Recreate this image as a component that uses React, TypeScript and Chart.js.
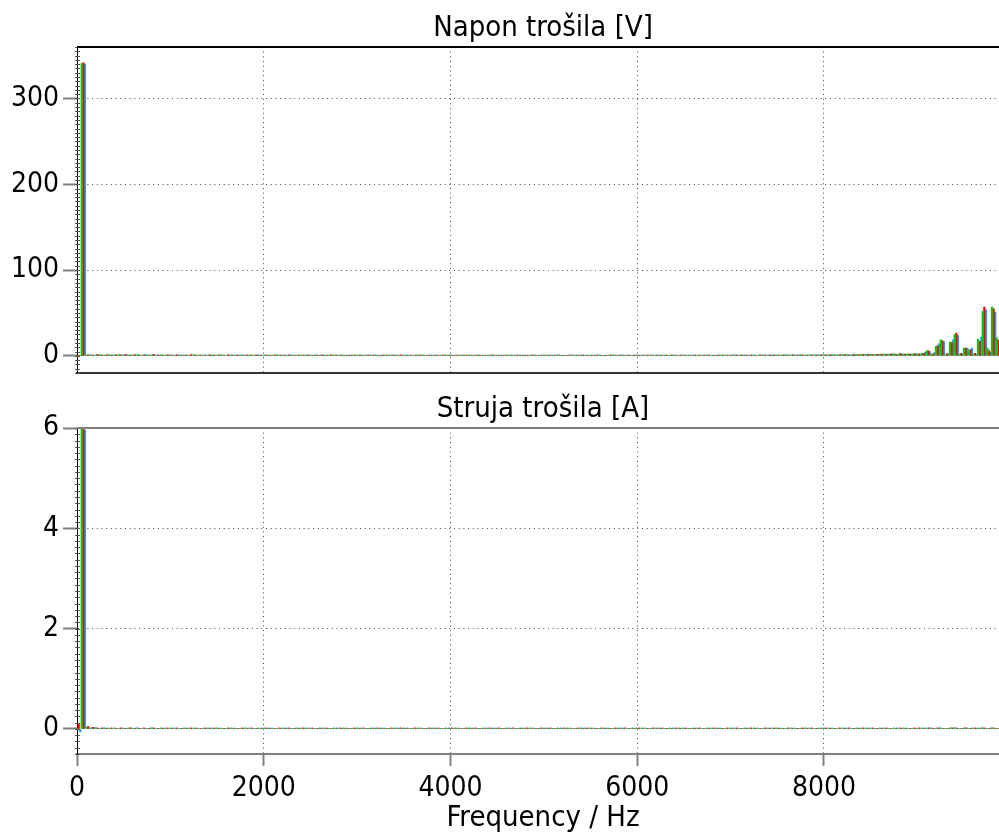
import React, { useEffect, useRef } from 'react';
import { Chart, registerables } from 'chart.js';

Chart.register(...registerables);

const FONT = '"DejaVu Sans Condensed", "DejaVu Sans", sans-serif';
const HARMONIC_STEP_HZ = 50;
const X_MAX = 9875;
const BAR_ALIGN_HZ = 18;
const X_TICKS = [0, 2000, 4000, 6000, 8000];
const V_TICKS = [0, 100, 200, 300];
const I_TICKS = [0, 2, 4, 6];
const TITLE_V = 'Napon trošila [V]';
const TITLE_I = 'Struja trošila [A]';
const X_TITLE = 'Frequency / Hz';
const PHASE_COLORS = ['#00c800', '#ff0000', '#1ea0ff'];

// Voltage spectrum, harmonic orders 0..197 (50 Hz steps)
const voltageG = [
  0.6, 340.8, 0.9, 1.3, 0.7, 1.4, 0.8, 1.2, 1.0, 1.5, 0.7, 1.1, 0.9, 1.6, 0.8, 1.2, 1.0, 0.7, 1.3, 0.9,
  1.1, 0.7, 1.2, 0.9, 0.6, 1.3, 0.8, 1.0, 0.7, 1.2, 0.9, 1.1, 0.6, 1.0, 0.8, 1.2, 0.7, 1.0, 0.9, 1.1,
  0.7, 1.0, 0.8, 1.1, 0.9, 0.6, 1.0, 0.8, 1.1, 0.7, 0.9, 1.0, 0.6, 0.9, 0.8, 1.1, 0.7, 0.9, 0.8, 1.0,
  0.8, 1.0, 0.7, 0.9, 1.0, 0.6, 0.8, 0.9, 1.0, 0.7, 0.9, 0.8, 0.6, 0.9, 1.0, 0.7, 0.8, 1.0, 0.7, 0.9,
  1.0, 0.7, 0.9, 0.8, 1.0, 0.6, 0.8, 0.9, 0.7, 1.0, 0.8, 0.6, 0.9, 1.0, 0.7, 0.8, 0.9, 0.7, 1.0, 0.6,
  0.8, 1.0, 0.7, 0.9, 0.8, 0.6, 1.0, 0.9, 0.7, 0.8, 1.0, 0.7, 0.9, 0.6, 0.8, 1.0, 0.7, 0.9, 1.0, 0.6,
  0.9, 0.7, 0.8, 1.0, 0.7, 0.9, 1.0, 0.6, 0.9, 0.7, 1.0, 0.8, 0.7, 0.9, 0.6, 1.0, 0.8, 0.7, 0.9, 1.0,
  0.8, 1.0, 0.7, 1.1, 0.8, 1.0, 0.9, 1.2, 0.8, 1.0, 1.1, 0.9, 1.2, 1.0, 0.8, 1.3, 1.0, 0.9, 1.2, 1.0,
  1.3, 1.1, 1.4, 1.0, 1.2, 1.6, 1.1, 1.4, 1.8, 1.2, 1.6, 1.4, 1.7, 2.1, 1.6, 2.3, 1.7, 2.1, 2.5, 2.0,
  2.1, 3.0, 5.8, 1.8, 11.0, 18.7, 1.5, 16.0, 25.0, 2.0, 9.0, 7.0, 2.0, 19.4, 51.7, 9.0, 56.8, 21.0,
];
const voltageR = [
  0.4, 341.5, 1.2, 0.8, 1.5, 0.9, 1.1, 0.7, 1.3, 1.0, 1.6, 0.8, 1.4, 0.9, 1.2, 0.6, 1.8, 1.0, 0.7, 1.1,
  0.9, 1.3, 0.6, 1.0, 1.4, 0.8, 1.1, 0.5, 1.2, 0.9, 1.0, 0.7, 1.3, 0.8, 1.1, 0.6, 1.0, 0.9, 1.2, 0.7,
  1.0, 0.8, 1.1, 0.6, 0.9, 1.2, 0.7, 1.0, 0.8, 1.1, 0.6, 0.9, 1.0, 0.7, 1.2, 0.8, 0.9, 0.6, 1.0, 0.8,
  0.9, 0.7, 1.1, 0.8, 0.6, 1.0, 0.9, 0.7, 0.8, 1.1, 0.6, 0.9, 0.8, 1.0, 0.7, 0.9, 0.6, 0.8, 1.0, 0.7,
  0.8, 0.9, 0.6, 1.0, 0.7, 0.8, 0.9, 0.6, 0.8, 1.0, 0.7, 0.9, 0.8, 0.6, 1.0, 0.7, 0.8, 0.9, 0.6, 0.8,
  0.9, 0.7, 0.8, 1.0, 0.6, 0.9, 0.8, 0.7, 1.0, 0.8, 0.6, 0.9, 0.7, 0.8, 1.0, 0.7, 0.9, 0.6, 0.8, 0.9,
  0.7, 0.8, 1.0, 0.6, 0.9, 0.8, 0.7, 1.0, 0.8, 0.9, 0.6, 0.8, 1.0, 0.7, 0.9, 0.8, 0.6, 1.0, 0.8, 0.7,
  0.9, 0.8, 1.0, 0.7, 0.9, 0.6, 1.0, 0.8, 0.9, 1.1, 0.7, 1.0, 0.8, 1.2, 0.9, 1.0, 0.8, 1.1, 0.9, 1.2,
  1.0, 1.3, 0.9, 1.2, 1.4, 1.0, 1.6, 1.2, 1.5, 1.8, 1.3, 1.7, 2.0, 1.5, 2.2, 1.8, 2.6, 2.0, 1.9, 2.4,
  2.2, 3.0, 5.8, 2.3, 11.7, 17.5, 2.3, 15.6, 26.4, 2.8, 9.0, 7.0, 3.0, 16.7, 56.8, 6.0, 54.8, 18.0,
];
const voltageB = [
  0.3, 340.2, 1.0, 0.9, 1.3, 0.7, 1.5, 1.0, 0.8, 1.2, 1.4, 0.9, 1.1, 0.8, 1.5, 0.9, 1.2, 1.1, 0.8, 1.3,
  0.8, 1.1, 1.0, 0.7, 1.2, 0.9, 0.6, 1.1, 1.0, 0.8, 1.2, 0.6, 1.0, 0.9, 0.7, 1.1, 0.8, 0.6, 1.0, 0.9,
  0.8, 0.6, 1.0, 0.9, 0.7, 1.0, 0.8, 0.6, 0.9, 1.0, 0.8, 0.7, 1.1, 0.8, 0.6, 0.9, 1.0, 0.8, 0.7, 0.9,
  1.0, 0.8, 0.6, 1.0, 0.8, 0.9, 0.7, 1.0, 0.6, 0.8, 1.0, 0.7, 0.9, 0.8, 0.6, 1.0, 0.9, 0.7, 0.8, 1.0,
  0.7, 0.8, 1.0, 0.6, 0.9, 1.0, 0.7, 0.8, 0.9, 0.6, 1.0, 0.8, 0.7, 0.9, 0.8, 1.0, 0.6, 0.9, 0.8, 1.0,
  0.7, 0.9, 1.0, 0.6, 0.8, 0.9, 0.7, 1.0, 0.8, 0.6, 0.9, 1.0, 0.8, 0.7, 0.9, 0.6, 1.0, 0.8, 0.7, 0.9,
  1.0, 0.8, 0.6, 0.9, 1.0, 0.7, 0.8, 0.9, 0.6, 1.0, 0.8, 0.9, 0.7, 1.0, 0.8, 0.6, 0.9, 1.0, 0.7, 0.8,
  1.0, 0.9, 0.8, 1.0, 1.1, 0.7, 1.0, 0.9, 1.2, 0.8, 1.0, 1.2, 0.9, 1.1, 1.3, 0.9, 1.2, 1.0, 1.3, 1.1,
  1.2, 1.4, 1.1, 1.5, 1.3, 1.2, 1.7, 1.3, 1.5, 1.9, 1.4, 1.8, 1.5, 2.0, 2.2, 1.7, 2.4, 1.9, 2.2, 2.7,
  1.9, 4.0, 5.0, 3.9, 14.0, 16.7, 3.0, 18.7, 23.7, 2.5, 9.0, 9.0, 2.0, 21.8, 53.7, 4.0, 51.0, 19.0,
];

// Current spectrum, harmonic orders 0..197
const currentG = [
  0.01, 6.01, 0.03, 0.02, 0.02, 0.01, 0.02, 0.01, 0.02, 0.01, 0.01, 0.02, 0.01, 0.02, 0.01, 0.01, 0.02, 0.01, 0.02, 0.01,
  0.02, 0.01, 0.01, 0.02, 0.01, 0.02, 0.01, 0.01, 0.02, 0.01, 0.02, 0.01, 0.01, 0.02, 0.01, 0.01, 0.02, 0.01, 0.01, 0.02,
  0.01, 0.02, 0.01, 0.01, 0.02, 0.01, 0.01, 0.02, 0.01, 0.02, 0.01, 0.01, 0.02, 0.01, 0.01, 0.02, 0.01, 0.02, 0.01, 0.01,
  0.02, 0.01, 0.01, 0.02, 0.01, 0.02, 0.01, 0.01, 0.02, 0.01, 0.02, 0.01, 0.01, 0.02, 0.01, 0.01, 0.02, 0.01, 0.01, 0.02,
  0.01, 0.02, 0.01, 0.01, 0.02, 0.01, 0.01, 0.02, 0.01, 0.02, 0.01, 0.01, 0.02, 0.01, 0.01, 0.02, 0.01, 0.02, 0.01, 0.01,
  0.02, 0.01, 0.01, 0.02, 0.01, 0.02, 0.01, 0.01, 0.02, 0.01, 0.02, 0.01, 0.01, 0.02, 0.01, 0.01, 0.02, 0.01, 0.01, 0.02,
  0.01, 0.02, 0.01, 0.01, 0.02, 0.01, 0.01, 0.02, 0.01, 0.02, 0.01, 0.01, 0.02, 0.01, 0.01, 0.02, 0.01, 0.02, 0.01, 0.01,
  0.02, 0.01, 0.01, 0.02, 0.01, 0.02, 0.01, 0.01, 0.02, 0.01, 0.02, 0.01, 0.01, 0.02, 0.01, 0.01, 0.02, 0.01, 0.01, 0.02,
  0.01, 0.02, 0.01, 0.01, 0.02, 0.01, 0.01, 0.02, 0.01, 0.02, 0.01, 0.01, 0.02, 0.01, 0.01, 0.02, 0.01, 0.02, 0.01, 0.01,
  0.01, 0.02, 0.01, 0.02, 0.01, 0.02, 0.01, 0.02, 0.02, 0.01, 0.02, 0.01, 0.01, 0.02, 0.02, 0.01, 0.02, 0.01,
];
const currentR = [
  0.09, 5.99, 0.05, 0.03, 0.02, 0.02, 0.01, 0.02, 0.01, 0.02, 0.01, 0.02, 0.01, 0.01, 0.02, 0.01, 0.02, 0.01, 0.01, 0.02,
  0.01, 0.02, 0.01, 0.01, 0.02, 0.01, 0.01, 0.02, 0.01, 0.02, 0.01, 0.01, 0.02, 0.01, 0.01, 0.02, 0.01, 0.02, 0.01, 0.01,
  0.02, 0.01, 0.01, 0.02, 0.01, 0.02, 0.01, 0.01, 0.02, 0.01, 0.02, 0.01, 0.01, 0.02, 0.01, 0.01, 0.02, 0.01, 0.01, 0.02,
  0.01, 0.02, 0.01, 0.01, 0.02, 0.01, 0.01, 0.02, 0.01, 0.02, 0.01, 0.01, 0.02, 0.01, 0.01, 0.02, 0.01, 0.02, 0.01, 0.01,
  0.02, 0.01, 0.01, 0.02, 0.01, 0.02, 0.01, 0.01, 0.02, 0.01, 0.02, 0.01, 0.01, 0.02, 0.01, 0.01, 0.02, 0.01, 0.01, 0.02,
  0.01, 0.02, 0.01, 0.01, 0.02, 0.01, 0.01, 0.02, 0.01, 0.02, 0.01, 0.01, 0.02, 0.01, 0.01, 0.02, 0.01, 0.02, 0.01, 0.01,
  0.02, 0.01, 0.01, 0.02, 0.01, 0.02, 0.01, 0.01, 0.02, 0.01, 0.02, 0.01, 0.01, 0.02, 0.01, 0.01, 0.02, 0.01, 0.01, 0.02,
  0.01, 0.02, 0.01, 0.01, 0.02, 0.01, 0.01, 0.02, 0.01, 0.02, 0.01, 0.01, 0.02, 0.01, 0.01, 0.02, 0.01, 0.02, 0.01, 0.01,
  0.02, 0.01, 0.01, 0.02, 0.01, 0.02, 0.01, 0.01, 0.02, 0.01, 0.02, 0.01, 0.01, 0.02, 0.01, 0.01, 0.02, 0.01, 0.01, 0.02,
  0.02, 0.01, 0.02, 0.01, 0.02, 0.01, 0.01, 0.02, 0.02, 0.01, 0.02, 0.01, 0.02, 0.01, 0.02, 0.01, 0.02, 0.01,
];
const currentB = [
  -0.06, 5.96, 0.02, 0.03, 0.01, 0.02, 0.02, 0.01, 0.01, 0.02, 0.01, 0.02, 0.02, 0.01, 0.01, 0.02, 0.01, 0.01, 0.02, 0.01,
  0.02, 0.01, 0.01, 0.02, 0.01, 0.02, 0.01, 0.01, 0.02, 0.01, 0.02, 0.01, 0.01, 0.02, 0.01, 0.01, 0.02, 0.01, 0.01, 0.02,
  0.01, 0.02, 0.01, 0.01, 0.02, 0.01, 0.01, 0.02, 0.01, 0.02, 0.01, 0.01, 0.02, 0.01, 0.01, 0.02, 0.01, 0.02, 0.01, 0.01,
  0.02, 0.01, 0.01, 0.02, 0.01, 0.02, 0.01, 0.01, 0.02, 0.01, 0.02, 0.01, 0.01, 0.02, 0.01, 0.01, 0.02, 0.01, 0.01, 0.02,
  0.01, 0.02, 0.01, 0.01, 0.02, 0.01, 0.01, 0.02, 0.01, 0.02, 0.01, 0.01, 0.02, 0.01, 0.01, 0.02, 0.01, 0.02, 0.01, 0.01,
  0.02, 0.01, 0.01, 0.02, 0.01, 0.02, 0.01, 0.01, 0.02, 0.01, 0.02, 0.01, 0.01, 0.02, 0.01, 0.01, 0.02, 0.01, 0.01, 0.02,
  0.01, 0.02, 0.01, 0.01, 0.02, 0.01, 0.01, 0.02, 0.01, 0.02, 0.01, 0.01, 0.02, 0.01, 0.01, 0.02, 0.01, 0.02, 0.01, 0.01,
  0.02, 0.01, 0.01, 0.02, 0.01, 0.02, 0.01, 0.01, 0.02, 0.01, 0.02, 0.01, 0.01, 0.02, 0.01, 0.01, 0.02, 0.01, 0.01, 0.02,
  0.01, 0.02, 0.01, 0.01, 0.02, 0.01, 0.01, 0.02, 0.01, 0.02, 0.01, 0.01, 0.02, 0.01, 0.01, 0.02, 0.01, 0.02, 0.01, 0.01,
  0.01, 0.02, 0.02, 0.01, 0.02, 0.01, 0.01, 0.02, 0.01, 0.01, 0.02, 0.02, 0.01, 0.02, 0.01, 0.02, 0.01, 0.02,
];

const toPoints = (arr: number[]) => arr.map((v, n) => ({ x: n * HARMONIC_STEP_HZ, y: v }));

const framePlugin = {
  id: 'frame',
  afterDraw(chart: any, _args: any, opts: any) {
    const { ctx, chartArea: a, scales } = chart;
    const y = scales.y;
    ctx.save();
    // minor ticks on the y axis
    ctx.strokeStyle = '#555';
    ctx.lineWidth = 1;
    const step = opts.minor;
    const start = Math.ceil(y.min / step) * step;
    ctx.beginPath();
    for (let v = start; v <= y.max + 1e-9; v += step) {
      const p = Math.round(y.getPixelForValue(v)) + 0.5;
      ctx.moveTo(a.left - 2, p);
      ctx.lineTo(a.left + 3, p);
    }
    ctx.stroke();
    // top frame line
    ctx.strokeStyle = opts.topColor;
    ctx.lineWidth = opts.topWidth;
    ctx.beginPath();
    ctx.moveTo(a.left, a.top);
    ctx.lineTo(a.right, a.top);
    ctx.stroke();
    // texts
    ctx.fillStyle = '#000';
    ctx.font = `29px ${FONT}`;
    ctx.textAlign = 'center';
    ctx.textBaseline = 'alphabetic';
    const cx = (a.left + a.right) / 2 + 5;
    ctx.fillText(opts.title, cx, a.top - 11);
    if (opts.xTitle) {
      ctx.fillText(opts.xTitle, cx, chart.height - 7);
    }
    ctx.restore();
  },
};

function buildConfig(opts: {
  title: string;
  xTitle: string | null;
  data: number[][];
  yMin: number;
  yMax: number;
  yTicks: number[];
  minor: number;
  showX: boolean;
  xHeight: number;
  topColor: string;
  topWidth: number;
  bottomColor: string;
}) {
  const tickFont = { family: FONT, size: 28 };
  return {
    type: 'bar',
    data: {
      datasets: opts.data.map((arr, i) => ({
        data: toPoints(arr),
        xAxisID: 'xb',
        backgroundColor: PHASE_COLORS[i],
        borderWidth: 0,
        barThickness: 1.6,
        grouped: true,
      })),
    },
    options: {
      animation: false,
      responsive: false,
      maintainAspectRatio: false,
      layout: { padding: { top: 47, left: 0, right: 0, bottom: 0 } },
      plugins: {
        legend: { display: false },
        tooltip: { enabled: false },
        title: { display: false },
        frame: {
          minor: opts.minor,
          topColor: opts.topColor,
          topWidth: opts.topWidth,
          title: opts.title,
          xTitle: opts.xTitle,
        },
      },
      scales: {
        x: {
          type: 'linear',
          position: 'bottom',
          min: 0,
          max: X_MAX,
          offset: false,
          afterBuildTicks: (s: any) => {
            s.ticks = X_TICKS.map((v) => ({ value: v }));
          },
          afterFit: (s: any) => {
            s.height = opts.xHeight;
            s.paddingLeft = 0;
            s.paddingRight = 0;
          },
          grid: {
            offset: false,
            color: '#444',
            lineWidth: 1,
            drawTicks: opts.showX,
            tickLength: 12,
            tickColor: '#808080',
            tickWidth: 2,
          },
          border: { display: true, color: opts.bottomColor, width: 2, dash: [1, 3.7] },
          ticks: {
            display: opts.showX,
            color: '#000',
            font: tickFont,
            padding: 6,
            maxRotation: 0,
            autoSkip: false,
            callback: (v: any) => String(v),
          },
          title: { display: false },
        },
        xb: {
          type: 'linear',
          position: 'bottom',
          display: false,
          min: -BAR_ALIGN_HZ,
          max: X_MAX - BAR_ALIGN_HZ,
          offset: false,
          grid: { offset: false },
        },
        y: {
          type: 'linear',
          min: opts.yMin,
          max: opts.yMax,
          afterBuildTicks: (s: any) => {
            s.ticks = opts.yTicks.map((v) => ({ value: v }));
          },
          afterFit: (s: any) => {
            s.width = 77;
            s.paddingTop = 0;
            s.paddingBottom = 0;
          },
          grid: {
            color: '#444',
            lineWidth: 1,
            drawTicks: true,
            tickLength: 14,
            tickColor: '#808080',
            tickWidth: 2,
          },
          border: { display: true, color: '#000', width: 1, dash: [1, 3.7] },
          ticks: {
            color: '#000',
            font: tickFont,
            padding: 4,
            callback: (v: any) => String(v),
          },
        },
      },
    },
    plugins: [framePlugin],
  } as any;
}

function ChartCanvas({ config, width, height, top }: { config: any; width: number; height: number; top: number }) {
  const ref = useRef<HTMLCanvasElement | null>(null);
  useEffect(() => {
    if (!ref.current) return;
    const chart = new Chart(ref.current, config);
    return () => chart.destroy();
  }, [config]);
  return (
    <canvas
      ref={ref}
      width={width}
      height={height}
      style={{ position: 'absolute', left: 0, top, width, height, display: 'block' }}
    />
  );
}

const topConfig = buildConfig({
  title: TITLE_V,
  xTitle: null,
  data: [voltageG, voltageR, voltageB],
  yMin: -20,
  yMax: 360,
  yTicks: V_TICKS,
  minor: 5,
  showX: false,
  xHeight: 8,
  topColor: '#000',
  topWidth: 2,
  bottomColor: '#333',
});

const bottomConfig = buildConfig({
  title: TITLE_I,
  xTitle: X_TITLE,
  data: [currentG, currentR, currentB],
  yMin: -0.5,
  yMax: 6,
  yTicks: I_TICKS,
  minor: 0.125,
  showX: true,
  xHeight: 79,
  topColor: '#808080',
  topWidth: 2,
  bottomColor: '#808080',
});

export default function App() {
  return (
    <div
      style={{
        position: 'fixed',
        left: 0,
        top: 0,
        width: 999,
        height: 833,
        overflow: 'hidden',
        background: '#fff',
      }}
    >
      <ChartCanvas config={topConfig} width={999} height={381} top={0} />
      <ChartCanvas config={bottomConfig} width={999} height={452} top={381} />
    </div>
  );
}
